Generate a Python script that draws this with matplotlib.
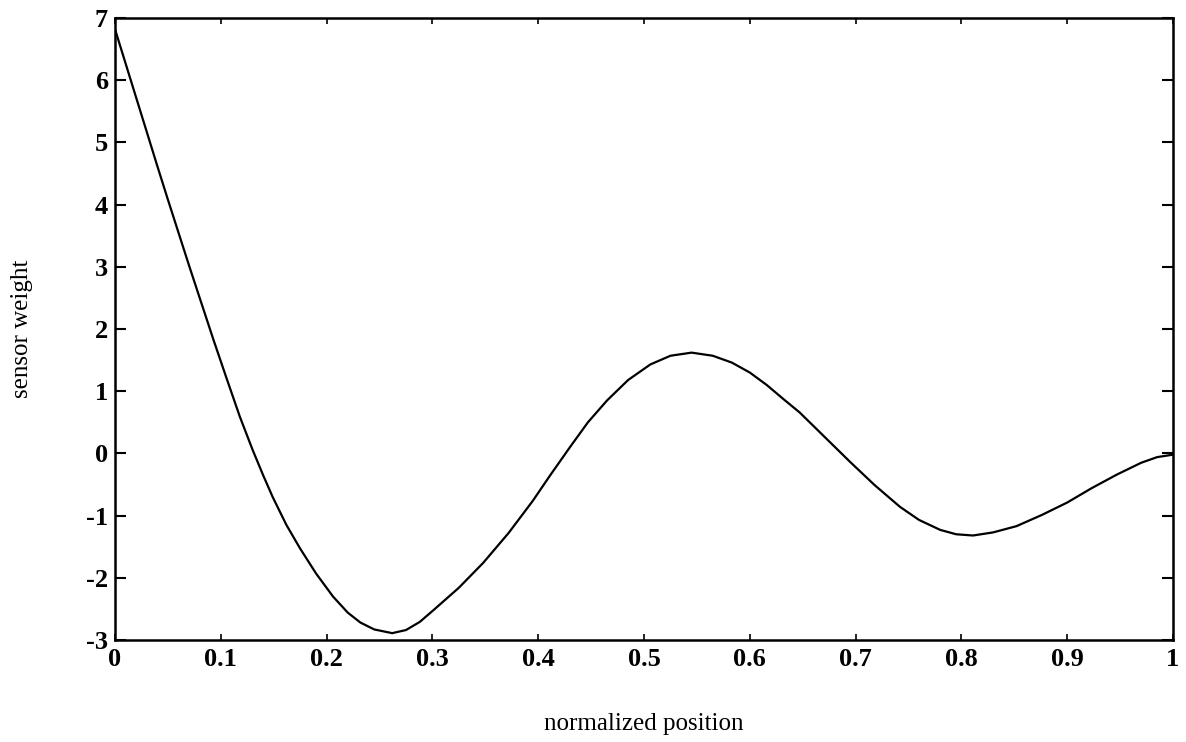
import matplotlib
matplotlib.use("Agg")
import matplotlib.pyplot as plt

# Data
position = [0.0, 0.02, 0.04, 0.05, 0.07, 0.093, 0.105, 0.118, 0.130, 0.140,
            0.149, 0.162, 0.175, 0.19, 0.206, 0.22, 0.232, 0.245, 0.262, 0.275,
            0.288, 0.301, 0.325, 0.348, 0.372, 0.395, 0.411, 0.43, 0.447, 0.465,
            0.485, 0.506, 0.525, 0.545, 0.565, 0.583, 0.600, 0.616, 0.632, 0.647,
            0.671, 0.695, 0.718, 0.742, 0.760, 0.780, 0.795, 0.811, 0.830, 0.852,
            0.876, 0.900, 0.923, 0.947, 0.97, 0.985, 1.0]
weight = [6.82, 5.72, 4.62, 4.08, 3.02, 1.83, 1.23, 0.59, 0.06, -0.35,
          -0.70, -1.15, -1.53, -1.93, -2.30, -2.56, -2.72, -2.83, -2.89, -2.84,
          -2.71, -2.52, -2.16, -1.76, -1.28, -0.76, -0.36, 0.1, 0.5, 0.85,
          1.18, 1.43, 1.57, 1.62, 1.57, 1.46, 1.30, 1.10, 0.87, 0.66,
          0.26, -0.14, -0.51, -0.86, -1.07, -1.23, -1.30, -1.32, -1.27, -1.17,
          -0.99, -0.79, -0.56, -0.34, -0.15, -0.06, -0.02]
xticks = [0, 0.1, 0.2, 0.3, 0.4, 0.5, 0.6, 0.7, 0.8, 0.9, 1]
xticklabels = ["0", "0.1", "0.2", "0.3", "0.4", "0.5", "0.6", "0.7", "0.8", "0.9", "1"]
yticks = [-3, -2, -1, 0, 1, 2, 3, 4, 5, 6, 7]
yticklabels = ["-3", "-2", "-1", "0", "1", "2", "3", "4", "5", "6", "7"]

plt.rcParams['font.family'] = ['Liberation Serif', 'DejaVu Serif']

fig = plt.figure(figsize=(11.86, 7.42), dpi=100)
ax = fig.add_axes([115/1186, 1 - 640/742, (1173 - 115)/1186, (640 - 18)/742])

ax.plot(position, weight, color='black', linewidth=1.6,
        solid_joinstyle='round', solid_capstyle='round')

ax.set_xlim(0, 1)
ax.set_ylim(-3, 7)
ax.set_xticks(xticks)
ax.set_xticklabels(xticklabels, fontsize=19, fontweight='bold')
ax.set_yticks(yticks)
ax.set_yticklabels(yticklabels, fontsize=19, fontweight='bold')

ax.tick_params(axis='x', direction='in', length=4, width=1.2, top=True, pad=6)
ax.tick_params(axis='y', direction='in', length=8, width=1.5, right=True, pad=5)

for s in ax.spines.values():
    s.set_linewidth(1.8)

ax.set_xlabel("normalized position", fontsize=18, labelpad=30)
ax.set_ylabel("sensor weight", fontsize=18, va='center', ha='center')
ax.yaxis.set_label_coords((22 - 115) / 1058, 0.5)

fig.savefig("out.png", dpi=100, facecolor='white')
